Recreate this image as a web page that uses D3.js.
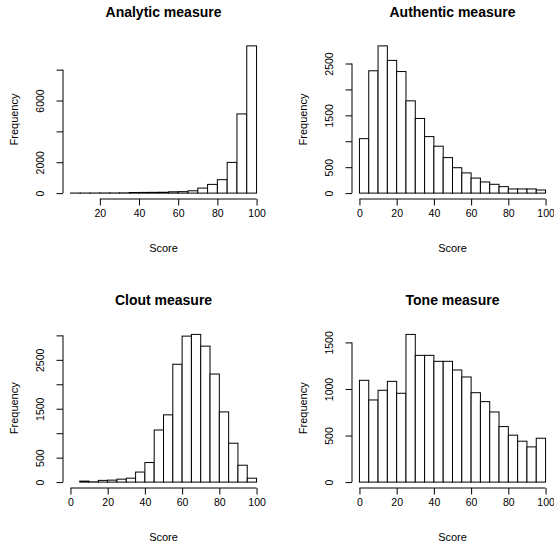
<!DOCTYPE html>
<html>
<head>
<meta charset="utf-8">
<script src="https://cdn.jsdelivr.net/npm/d3@7"></script>
<style>
  body { margin: 0; background: #fff; }
  text { font-family: "Liberation Sans", Arial, sans-serif; fill: #000; }
</style>
</head>
<body>
<svg width="554" height="548"></svg>
<script>
// bin edges (5 wide) and counts
var analyticBreaks = d3.range(5, 101, 5)
var analyticCounts = [4, 5, 6, 8, 10, 15, 40, 45, 50, 55, 85, 95, 150, 325, 565, 870, 1990, 5130, 9540]

var authenticBreaks = d3.range(0, 101, 5)
var authenticCounts = [1050, 2360, 2840, 2560, 2345, 1780, 1440, 1090, 905, 685,
                       490, 390, 290, 215, 170, 125, 80, 80, 80, 60]

var cloutBreaks = d3.range(0, 101, 5)
var cloutCounts = [0, 20, 5, 35, 40, 60, 80, 205, 400, 1065,
                   1375, 2410, 2985, 3020, 2780, 2210, 1435, 795, 345, 80]

var toneBreaks = d3.range(0, 101, 5)
var toneCounts = [1093, 882, 986, 1082, 954, 1586, 1361, 1361, 1297, 1297,
                  1204, 1129, 960, 864, 753, 596, 504, 439, 378, 471]

// axis ticks; empty label = tick drawn but label dropped (as R does on overlap)
var analyticXTicks = [20, 40, 60, 80, 100]
var fullXTicks = [0, 20, 40, 60, 80, 100]
var analyticYTicks = [0, 2000, 4000, 6000, 8000]
var analyticYLabels = ["0", "2000", "", "6000", ""]
var authenticYTicks = [0, 500, 1000, 1500, 2000, 2500]
var authenticYLabels = ["0", "500", "", "1500", "", "2500"]
var cloutYTicks = [0, 500, 1000, 1500, 2000, 2500, 3000]
var cloutYLabels = ["0", "500", "", "1500", "", "2500", ""]
var toneYTicks = [0, 500, 1000, 1500]
var toneYLabels = ["0", "500", "1000", "1500"]

var titles = ["Analytic measure", "Authentic measure", "Clout measure", "Tone measure"]

var svg = d3.select("svg")

// plot regions of the 2x2 layout
var cols = [[63, 264], [352, 553]]
var rows = [[40, 199], [328.5, 488]]

var panels = [
    { title: titles[0], breaks: analyticBreaks, counts: analyticCounts, xt: analyticXTicks, yt: analyticYTicks, yl: analyticYLabels, c: 0, r: 0 },
    { title: titles[1], breaks: authenticBreaks, counts: authenticCounts, xt: fullXTicks, yt: authenticYTicks, yl: authenticYLabels, c: 1, r: 0 },
    { title: titles[2], breaks: cloutBreaks, counts: cloutCounts, xt: fullXTicks, yt: cloutYTicks, yl: cloutYLabels, c: 0, r: 1 },
    { title: titles[3], breaks: toneBreaks, counts: toneCounts, xt: fullXTicks, yt: toneYTicks, yl: toneYLabels, c: 1, r: 1 }
]

panels.forEach(function (p) {
    var xr = cols[p.c], yr = rows[p.r]
    var lo = p.breaks[0], hi = p.breaks[p.breaks.length - 1]
    var pad = (hi - lo) * 0.04
    var x = d3.scaleLinear().domain([lo - pad, hi + pad]).range(xr)
    var ymax = d3.max(p.counts)
    var y = d3.scaleLinear().domain([-ymax * 0.04, ymax * 1.04]).range([yr[1], yr[0]])

    var g = svg.append("g")

    // bars
    g.selectAll("rect")
        .data(p.counts)
        .enter().append("rect")
        .attr("x", function (d, i) { return x(p.breaks[i]) })
        .attr("width", function (d, i) { return x(p.breaks[i + 1]) - x(p.breaks[i]) })
        .attr("y", function (d) { return y(d) })
        .attr("height", function (d) { return y(0) - y(d) })
        .style("fill", "#fff")
        .style("stroke", "#000")
        .style("stroke-width", 1)

    // x axis (R style: line from first to last tick, below the plot)
    var xa = g.append("g").attr("transform", "translate(0," + yr[1] + ")")
    xa.call(d3.axisBottom(x).tickValues(p.xt).tickSize(6.5).tickSizeOuter(0).tickFormat(d3.format("d")))
    xa.select(".domain").attr("d", "M" + x(p.xt[0]) + ",0H" + x(p.xt[p.xt.length - 1]))
    xa.selectAll("text").attr("y", 15).attr("dy", "0.32em").style("font-size", "10.5px")

    // y axis
    var ya = g.append("g").attr("transform", "translate(" + xr[0] + ",0)")
    ya.call(d3.axisLeft(y).tickValues(p.yt).tickSize(6.5).tickSizeOuter(0).tickFormat(function (d, i) { return p.yl[i] }))
    ya.select(".domain").attr("d", "M0," + y(p.yt[0]) + "V" + y(p.yt[p.yt.length - 1]))
    ya.selectAll("text")
        .attr("x", null).attr("dy", null)
        .attr("text-anchor", "middle")
        .attr("transform", "translate(-22,0) rotate(-90)")
        .attr("dy", "0.32em")
        .style("font-size", "10.5px")

    g.selectAll(".domain, .tick line").style("stroke", "#000")
    g.selectAll(".tick text").style("fill", "#000").style("font-family", "'Liberation Sans', Arial, sans-serif")

    // labels
    g.append("text")
        .attr("x", (xr[0] + xr[1]) / 2)
        .attr("y", yr[0] - 28)
        .attr("dy", "0.35em")
        .attr("text-anchor", "middle")
        .style("font-size", "14px")
        .style("font-weight", "bold")
        .text(p.title)

    g.append("text")
        .attr("x", (xr[0] + xr[1]) / 2)
        .attr("y", yr[1] + 49)
        .attr("dy", "0.35em")
        .attr("text-anchor", "middle")
        .style("font-size", "11px")
        .text("Score")

    g.append("text")
        .attr("transform", "translate(" + (xr[0] - 49) + "," + ((yr[0] + yr[1]) / 2) + ") rotate(-90)")
        .attr("dy", "0.35em")
        .attr("text-anchor", "middle")
        .style("font-size", "11px")
        .text("Frequency")
})
</script>
</body>
</html>
